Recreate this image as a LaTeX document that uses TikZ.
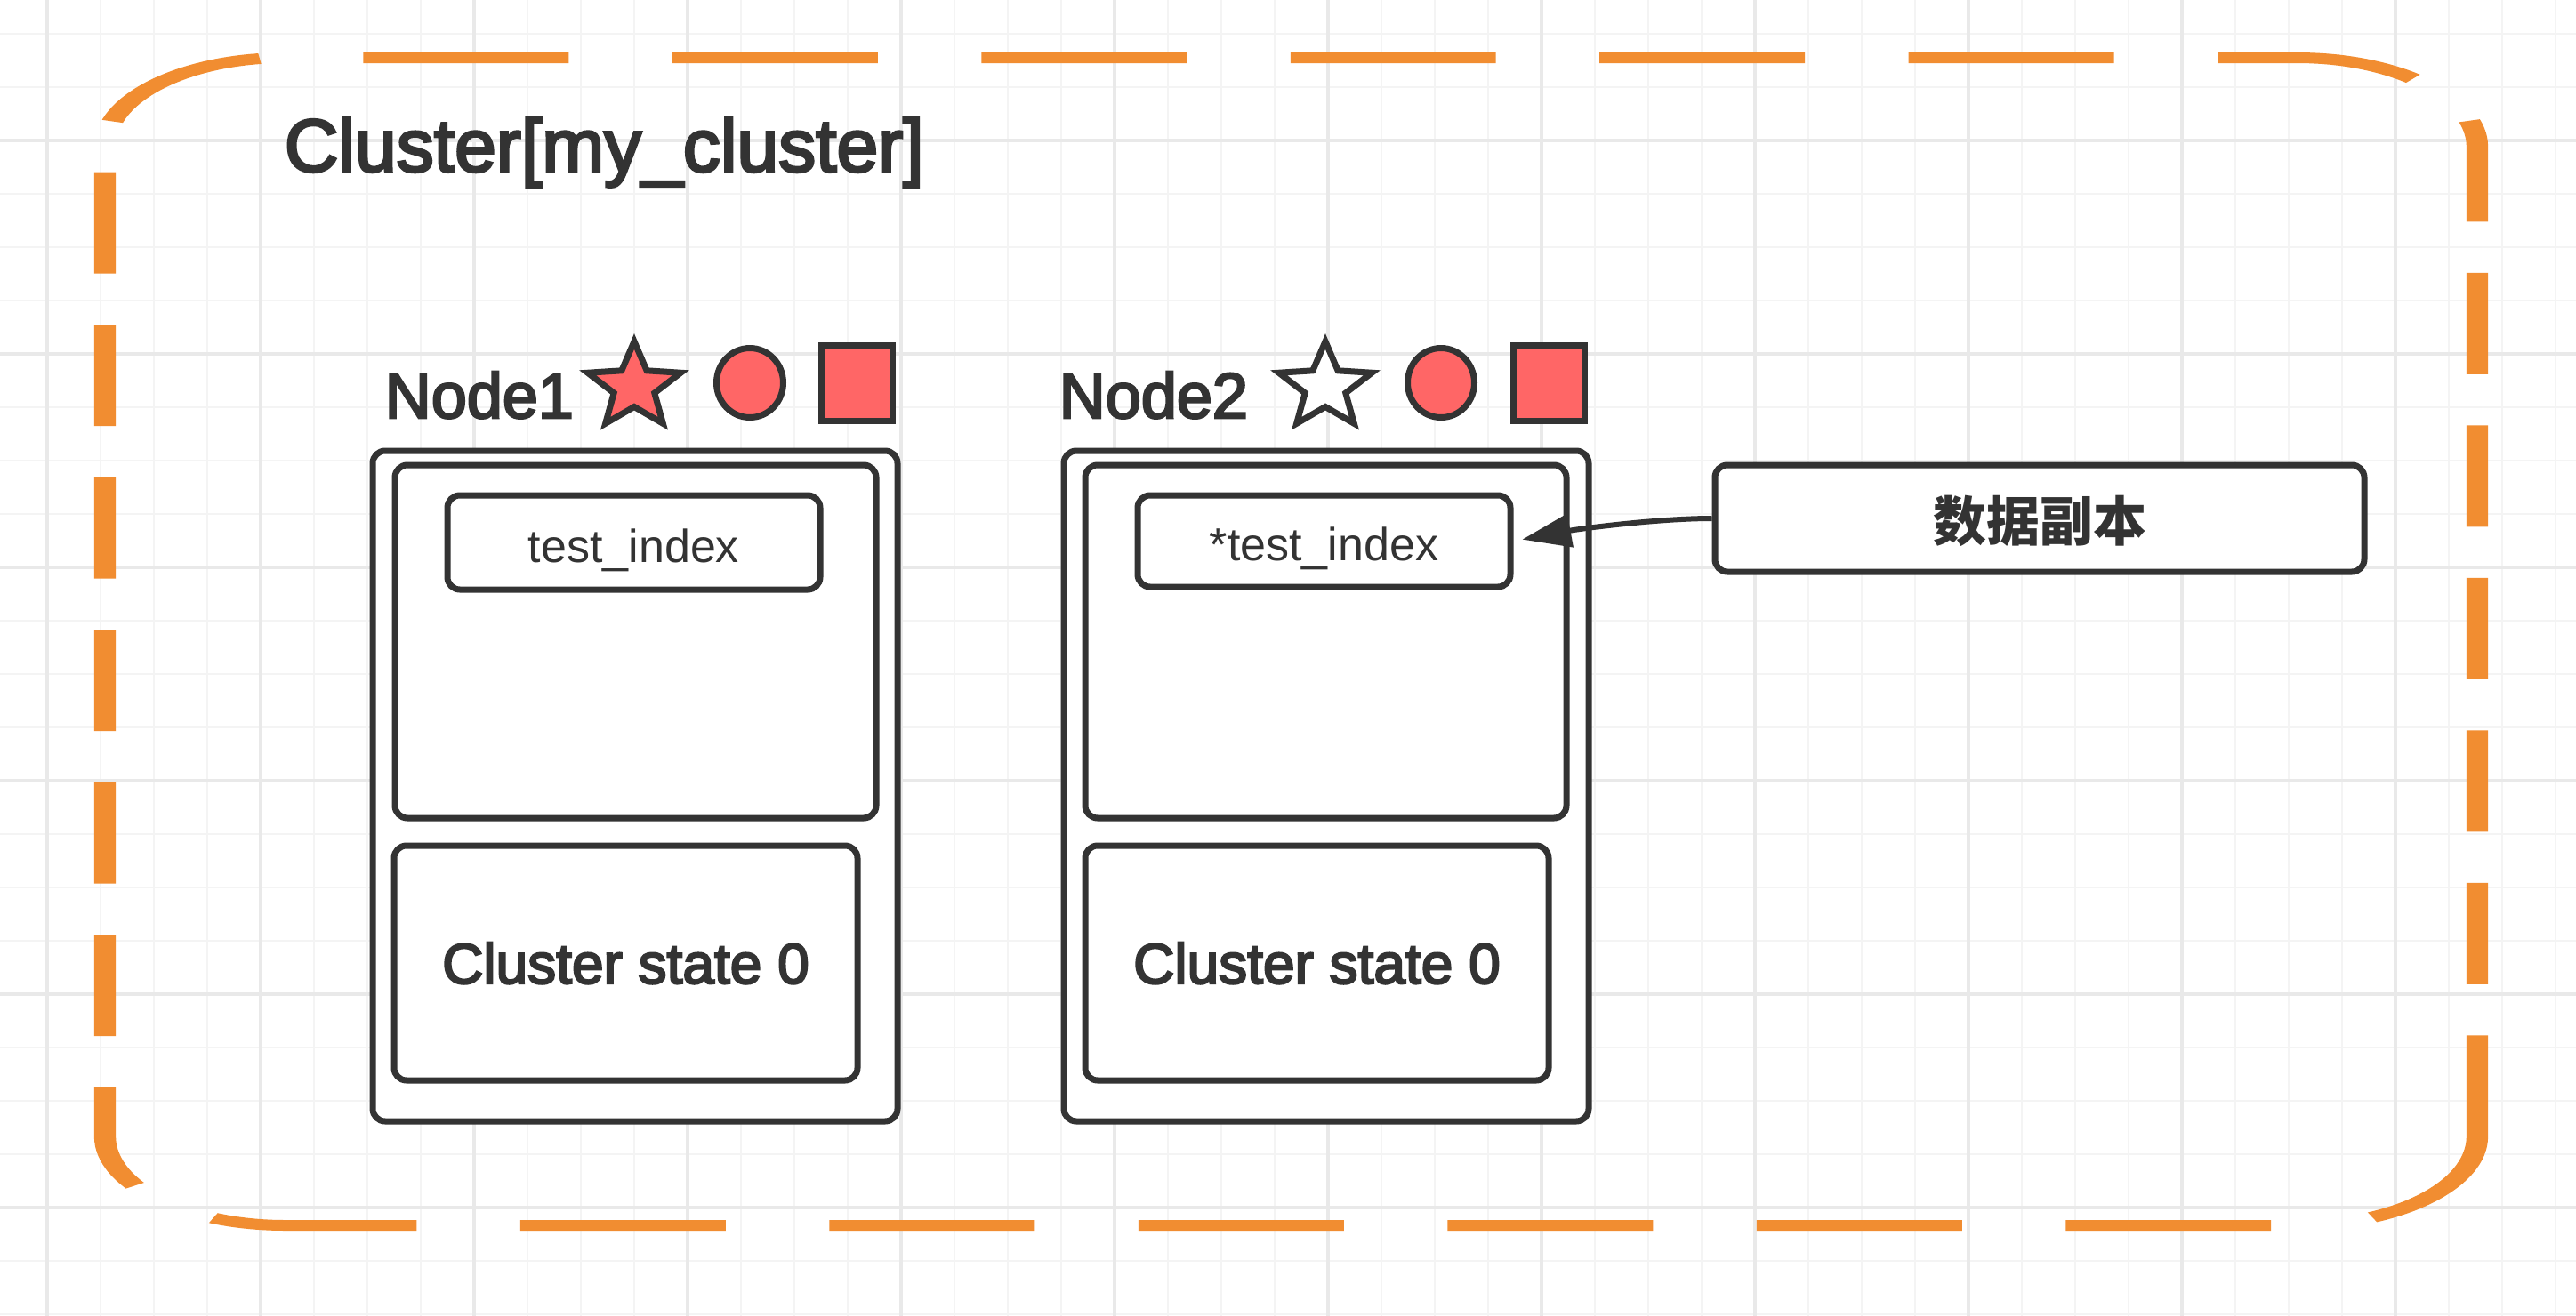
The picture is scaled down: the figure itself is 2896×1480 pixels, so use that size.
\documentclass[tikz,border=0pt]{standalone}
\usepackage{fontspec}
\setmainfont{Liberation Sans}
\newfontfamily\medfont{Liberation Sans}[FakeBold=3.5]
\newfontfamily\cjk{Noto Sans CJK SC}
\usetikzlibrary{arrows.meta}
\definecolor{linec}{HTML}{333333}
\definecolor{txt}{HTML}{333333}
\definecolor{redfill}{HTML}{FF6666}
\definecolor{orng}{RGB}{241,141,49}
\definecolor{gmin}{RGB}{244,244,244}
\definecolor{gmaj}{RGB}{233,233,233}
\tikzset{
  gridminor/.style={draw=gmin, line width=0.7pt},
  gridmajor/.style={draw=gmaj, line width=0.8pt},
  box/.style={draw=linec, line width=1.75pt, fill=white, rounded corners=3.5pt, inner sep=0pt, text=txt},
  shapeline/.style={draw=linec, line width=1.75pt},
  lbl/.style={inner sep=0pt, anchor=base west, text=txt},
  conn/.style={draw=linec, line width=1.5pt, -{Triangle[length=13.75pt,width=9.25pt]}},
  clusterline/.style={draw=orng, line width=3pt, dash pattern=on 28.5pt off 14.375pt, rounded corners=25pt},
}
\newcommand\drawmystar[3]{%
  \begin{scope}[shift={(#1,#2)}]
    \draw[shapeline, fill=#3] (-90:55 and 51) -- (-54:24 and 22.5) -- (-18:55 and 51) -- (18:24 and 22.5)
      -- (54:55 and 51) -- (90:24 and 22.5) -- (126:55 and 51) -- (162:24 and 22.5)
      -- (198:55 and 51) -- (234:24 and 22.5) -- cycle;
  \end{scope}}
\begin{document}
\begin{tikzpicture}[x=0.25pt,y=-0.25pt]
\useasboundingbox[fill=white] (0,0) rectangle (2896,1480);
% grid
\foreach \x in {53,113,...,2873} \draw[gridminor] (\x,0) -- (\x,1480);
\foreach \y in {38,98,...,1478} \draw[gridminor] (0,\y) -- (2896,\y);
\foreach \x in {53,293,...,2693} \draw[gridmajor] (\x,0) -- (\x,1480);
\foreach \y in {158,398,...,1358} \draw[gridmajor] (0,\y) -- (2896,\y);
% cluster frame (stretched horizontally as in the reference)
\begin{scope}[transform canvas={xscale=2.026}]
  \draw[clusterline] (1374.63,1278) -- (1374.63,1378) -- (58.24,1378) -- (58.24,65) -- (1374.63,65) -- (1374.63,1278);
\end{scope}
\node[lbl, font=\medfont\fontsize{21pt}{25pt}\selectfont] (title) at (319,193) {Cluster[my\_cluster]};
% Node1
\node[lbl, font=\medfont\fontsize{18pt}{21pt}\selectfont] (lab1) at (432,470) {Node1};
\drawmystar{713}{435}{redfill}
\draw[shapeline, fill=redfill] (843,430.5) ellipse [x radius=37.5, y radius=39];
\draw[shapeline, fill=redfill] (923.5,388.5) rectangle (1003.5,473.5);
\node[box, minimum width=147.5pt, minimum height=188.5pt] (n1) at (714,884) {};
\node[box, minimum width=135.25pt, minimum height=99.25pt] (n1top) at (714.5,721.5) {};
\node[box, minimum width=104.75pt, minimum height=26.5pt, text height=11pt, text depth=0pt,
      font=\fontsize{13pt}{15pt}\selectfont] (idx1) at (712.5,610) {test\_index};
\node[box, minimum width=130.25pt, minimum height=66pt, text height=11.5pt, text depth=0pt,
      font=\medfont\fontsize{16pt}{19pt}\selectfont] (st1) at (703.5,1083) {Cluster state 0};
% Node2
\node[lbl, font=\medfont\fontsize{18pt}{21pt}\selectfont] (lab2) at (1190,470) {Node2};
\drawmystar{1490}{435}{white}
\draw[shapeline, fill=redfill] (1620,430.5) ellipse [x radius=37.5, y radius=39];
\draw[shapeline, fill=redfill] (1701,388.5) rectangle (1781,473.5);
\node[box, minimum width=147.5pt, minimum height=188.5pt] (n2) at (1491,884) {};
\node[box, minimum width=135.25pt, minimum height=99.25pt] (n2top) at (1490.5,721.5) {};
\node[box, minimum width=104.75pt, minimum height=25.75pt, text height=11pt, text depth=0pt,
      font=\fontsize{13pt}{15pt}\selectfont] (idx2) at (1488.5,608.5) {*test\_index};
\node[box, minimum width=130.25pt, minimum height=66pt, text height=11.5pt, text depth=0pt,
      font=\medfont\fontsize{16pt}{19pt}\selectfont] (st2) at (1480.5,1083) {Cluster state 0};
% replica label
\node[box, minimum width=182.5pt, minimum height=30pt, text height=12.5pt, text depth=0pt,
      font=\cjk\bfseries\fontsize{15pt}{18pt}\selectfont] (copy) at (2293,583) {数据副本};
\draw[conn, shorten >=2.5pt] (copy.west) .. controls +(-60,0) and +(75,-14) .. (idx2.east);
\end{tikzpicture}
\end{document}
